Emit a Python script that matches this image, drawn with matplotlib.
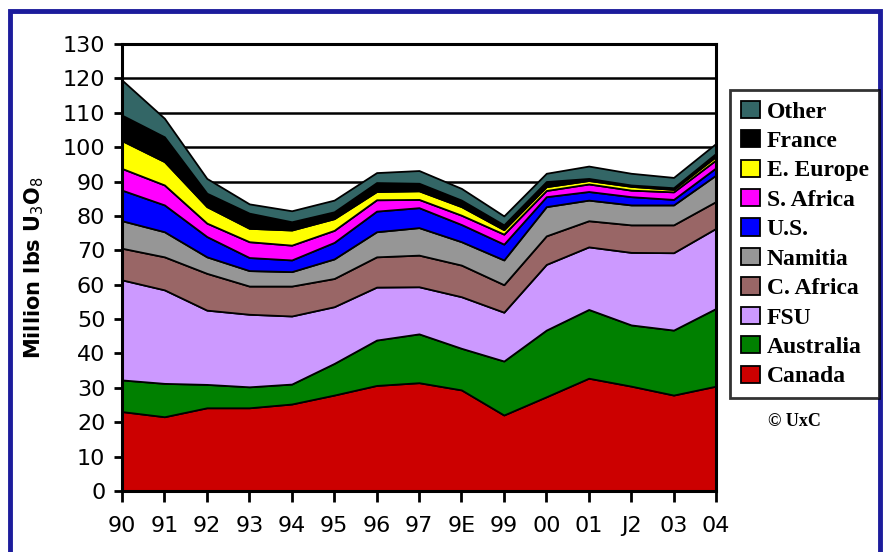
import matplotlib
matplotlib.use("Agg")
import matplotlib.pyplot as plt
from matplotlib.patches import Rectangle

years = ["90", "91", "92", "93", "94", "95", "96", "97", "9E", "99", "00", "01", "J2", "03", "04"]

canada = [23.1, 21.6, 24.2, 24.2, 25.3, 27.9, 30.7, 31.5, 29.4, 22.1, 27.4, 32.8, 30.5, 27.9, 30.5]
australia = [9.2, 9.7, 6.8, 6.1, 5.8, 9.2, 13.2, 14.2, 12.1, 15.7, 19.4, 20.0, 17.8, 18.9, 22.6]
fsu = [29.1, 27.2, 21.6, 21.1, 19.8, 16.5, 15.4, 13.7, 15.0, 14.2, 19.1, 18.2, 21.1, 22.5, 23.3]
c_africa = [9.2, 9.6, 10.7, 8.2, 8.7, 8.2, 8.8, 9.2, 9.2, 8.0, 8.3, 7.6, 8.0, 8.1, 7.8]
namibia = [8.0, 7.3, 4.8, 4.5, 4.2, 5.7, 7.3, 8.0, 6.8, 7.2, 8.5, 6.0, 5.8, 5.8, 7.7]
us = [8.9, 7.8, 5.9, 3.8, 3.4, 4.8, 6.0, 5.8, 5.0, 4.6, 2.9, 2.5, 2.4, 1.6, 2.1]
s_africa = [6.3, 5.8, 3.9, 4.6, 4.3, 3.5, 3.3, 2.4, 2.7, 2.9, 1.8, 2.2, 1.9, 2.2, 2.3]
e_europe = [8.1, 6.8, 4.8, 3.9, 4.4, 3.4, 2.4, 2.5, 2.5, 1.3, 1.1, 1.0, 1.1, 0.7, 1.0]
france = [7.4, 7.2, 3.9, 4.4, 2.4, 2.0, 2.6, 2.2, 1.9, 1.4, 1.5, 0.6, 0.4, 0.5, 0.9]
other = [10.2, 5.4, 4.3, 2.7, 3.2, 3.4, 2.9, 3.7, 3.4, 2.6, 2.4, 3.6, 3.4, 3.0, 2.9]

labels = ["Canada", "Australia", "FSU", "C. Africa", "Namitia", "U.S.",
          "S. Africa", "E. Europe", "France", "Other"]
colors = ["#cc0000", "#008000", "#cc99ff", "#996666", "#969696", "#0000ff",
          "#ff00ff", "#ffff00", "#000000", "#336666"]

fig = plt.figure(figsize=(8.87, 5.52), dpi=100)
ax = fig.add_axes([122 / 887, 1 - 491 / 552, 594 / 887, 447 / 552])

x = list(range(len(years)))
polys = ax.stackplot(x, canada, australia, fsu, c_africa, namibia, us,
                     s_africa, e_europe, france, other,
                     colors=colors, labels=labels,
                     edgecolor="black", linewidth=1.3)

ax.set_xlim(0, len(years) - 1)
ax.set_ylim(0, 130)
ax.set_yticks(range(0, 131, 10))
ax.set_xticks(x)
ax.set_xticklabels(years)
ax.set_axisbelow(True)
ax.yaxis.grid(True, color="black", linewidth=1.8)

for s in ax.spines.values():
    s.set_linewidth(2.2)
    s.set_color("black")
ax.tick_params(axis="x", direction="out", length=8, width=2, labelsize=16, pad=10)
ax.tick_params(axis="y", direction="out", length=6, width=2, labelsize=16, pad=6)

ax.set_ylabel("Million lbs U$_3$O$_8$", fontsize=15, fontweight="bold")
ax.yaxis.set_label_coords(-0.128, 0.5)

leg = fig.legend(polys[::-1], labels[::-1], loc="upper left",
                 bbox_to_anchor=(730 / 887, 1 - 90 / 552),
                 prop={"family": "Liberation Serif", "size": 17, "weight": "bold"},
                 frameon=True, fancybox=False, edgecolor="black",
                 handlelength=0.8, handleheight=0.75, handletextpad=0.3,
                 labelspacing=0.32, borderpad=0.45, borderaxespad=0)
leg.get_frame().set_linewidth(2)

fig.text(768 / 887, 1 - 421 / 552, "© UxC", family="Liberation Serif",
         fontsize=13, fontweight="bold", va="center")

# blue frame around the picture
fig.add_artist(Rectangle((10.5 / 887, -0.05), 870 / 887, 1.05 - 10.5 / 552,
                         transform=fig.transFigure, fill=False,
                         edgecolor="#1c1c9c", linewidth=3.5))

fig.savefig("out.png", dpi=100)
